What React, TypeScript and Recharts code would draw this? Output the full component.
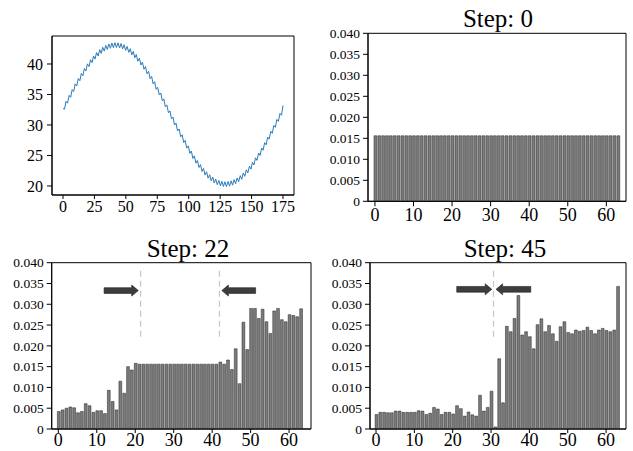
import React from 'react';
import { LineChart, Line, BarChart, Bar, XAxis, YAxis, ReferenceLine, ReferenceArea } from 'recharts';

const FONT = '"Liberation Serif", "Times New Roman", "DejaVu Serif", serif';

// ---- top-left line series (fine jitter included) ----
const sineX = [0, 1.2, 2.4, 3.6, 4.9, 6.1, 7.3, 8.5, 9.7, 10.9, 12.2, 13.4, 14.6, 15.8, 17.0, 18.2, 19.4, 20.7, 21.9, 23.1, 24.3, 25.5, 26.7, 28.0, 29.2, 30.4, 31.6, 32.8, 34.0, 35.2, 36.5, 37.7, 38.9, 40.1, 41.3, 42.5, 43.8, 45.0, 46.2, 47.4, 48.6, 49.8, 51.0, 52.3, 53.5, 54.7, 55.9, 57.1, 58.3, 59.5, 60.8, 62.0, 63.2, 64.4, 65.6, 66.8, 68.1, 69.3, 70.5, 71.7, 72.9, 74.1, 75.3, 76.6, 77.8, 79.0, 80.2, 81.4, 82.6, 83.9, 85.1, 86.3, 87.5, 88.7, 89.9, 91.1, 92.4, 93.6, 94.8, 96.0, 97.2, 98.4, 99.7, 100.9, 102.1, 103.3, 104.5, 105.7, 106.9, 108.2, 109.4, 110.6, 111.8, 113.0, 114.2, 115.4, 116.7, 117.9, 119.1, 120.3, 121.5, 122.7, 124.0, 125.2, 126.4, 127.6, 128.8, 130.0, 131.3, 132.5, 133.7, 134.9, 136.1, 137.3, 138.5, 139.7, 141.0, 142.2, 143.4, 144.6, 145.8, 147.0, 148.3, 149.5, 150.7, 151.9, 153.1, 154.3, 155.6, 156.8, 158.0, 159.2, 160.4, 161.6, 162.8, 164.0, 165.3, 166.5, 167.7, 168.9, 170.1, 171.3, 172.6, 173.8, 175.0];
const sineY = [32.7, 32.59, 33.88, 33.57, 34.86, 34.54, 35.81, 35.48, 36.74, 36.39, 37.63, 37.26, 38.47, 38.08, 39.27, 38.85, 40.02, 39.57, 40.70, 40.22, 41.32, 40.81, 41.87, 41.32, 42.35, 41.75, 42.74, 42.11, 43.06, 42.39, 43.29, 42.57, 43.44, 42.68, 43.50, 42.70, 43.47, 42.63, 43.36, 42.47, 43.16, 42.23, 42.88, 41.91, 42.51, 41.50, 42.07, 41.02, 41.55, 40.46, 40.96, 39.84, 40.30, 39.15, 39.58, 38.40, 38.80, 37.59, 37.97, 36.74, 37.10, 35.85, 36.19, 34.92, 35.24, 33.96, 34.28, 32.98, 33.29, 32.00, 32.30, 31.00, 31.30, 30.01, 30.32, 29.03, 29.34, 28.06, 28.39, 27.12, 27.46, 26.21, 26.57, 25.34, 25.73, 24.52, 24.93, 23.75, 24.18, 23.03, 23.50, 22.38, 22.88, 21.79, 22.33, 21.28, 21.85, 20.85, 21.46, 20.49, 21.14, 20.21, 20.91, 20.03, 20.76, 19.92, 20.70, 19.90, 20.73, 19.97, 20.84, 20.13, 21.04, 20.37, 21.32, 20.69, 21.69, 21.10, 22.13, 21.58, 22.65, 22.14, 23.24, 22.76, 23.90, 23.45, 24.62, 24.20, 25.40, 25.01, 26.23, 25.86, 27.10, 26.75, 28.01, 27.68, 28.96, 28.64, 29.92, 29.62, 30.91, 30.60, 31.90, 31.60, 33.2];
const lineTicksX = [0, 25, 50, 75, 100, 125, 150, 175];
const lineTicksY = [20, 25, 30, 35, 40];

// ---- bar panels ----
const binIndex = Array.from({ length: 64 }, (_, i) => i);
const step0 = [
  0.0156, 0.0156, 0.0156, 0.0156, 0.0156, 0.0156, 0.0156, 0.0156, 0.0156, 0.0156,
  0.0156, 0.0156, 0.0156, 0.0156, 0.0156, 0.0156, 0.0156, 0.0156, 0.0156, 0.0156,
  0.0156, 0.0156, 0.0156, 0.0156, 0.0156, 0.0156, 0.0156, 0.0156, 0.0156, 0.0156,
  0.0156, 0.0156, 0.0156, 0.0156, 0.0156, 0.0156, 0.0156, 0.0156, 0.0156, 0.0156,
  0.0156, 0.0156, 0.0156, 0.0156, 0.0156, 0.0156, 0.0156, 0.0156, 0.0156, 0.0156,
  0.0156, 0.0156, 0.0156, 0.0156, 0.0156, 0.0156, 0.0156, 0.0156, 0.0156, 0.0156,
  0.0156, 0.0156, 0.0156, 0.0156,
];
const step22 = [
  0.0042, 0.0046, 0.0050, 0.0053, 0.0051, 0.0039, 0.0042, 0.0061, 0.0056, 0.0040,
  0.0044, 0.0044, 0.0037, 0.0093, 0.0066, 0.0046, 0.0115, 0.0086, 0.0150, 0.0142,
  0.0158, 0.0156, 0.0156, 0.0156, 0.0156, 0.0156, 0.0156, 0.0156, 0.0156, 0.0156,
  0.0156, 0.0156, 0.0156, 0.0156, 0.0156, 0.0156, 0.0156, 0.0156, 0.0156, 0.0156,
  0.0156, 0.0156, 0.0161, 0.0156, 0.0166, 0.0143, 0.0193, 0.0109, 0.0257, 0.0191,
  0.0290, 0.0290, 0.0266, 0.0288, 0.0258, 0.0230, 0.0284, 0.0290, 0.0263, 0.0258,
  0.0275, 0.0273, 0.0270, 0.0289,
];
const step45 = [
  0.0035, 0.0040, 0.0040, 0.0039, 0.0039, 0.0043, 0.0043, 0.0040, 0.0040, 0.0040,
  0.0040, 0.0044, 0.0043, 0.0035, 0.0038, 0.0052, 0.0048, 0.0035, 0.0040, 0.0040,
  0.0036, 0.0056, 0.0049, 0.0031, 0.0041, 0.0034, 0.0031, 0.0081, 0.0043, 0.0052,
  0.0091, 0.0005, 0.0169, 0.0063, 0.0247, 0.0234, 0.0266, 0.0321, 0.0226, 0.0234,
  0.0222, 0.0193, 0.0251, 0.0265, 0.0234, 0.0249, 0.0229, 0.0211, 0.0246, 0.0258,
  0.0232, 0.0229, 0.0238, 0.0235, 0.0237, 0.0245, 0.0237, 0.0229, 0.0238, 0.0242,
  0.0237, 0.0234, 0.0238, 0.0343,
];
const barTicksX = [0, 10, 20, 30, 40, 50, 60];
const barTicksY = [0, 0.005, 0.01, 0.015, 0.02, 0.025, 0.03, 0.035, 0.04];

// annotations (data units)
const guides22 = [21.4, 41.9];
const arrows22 = [{ from: 11.9, to: 20.8, y: 0.0333 }, { from: 51.3, to: 42.5, y: 0.0333 }];
const guides45 = [30.65];
const arrows45 = [{ from: 21.05, to: 30.2, y: 0.0336 }, { from: 40.36, to: 31.3, y: 0.0336 }];
const guideSpan = [0.0222, 0.0385];

const lineData = sineX.map((x, i) => ({ x, y: sineY[i] }));
const mkBars = (vals: number[]) => binIndex.map((x, i) => ({ x, v: vals[i] }));

const ArrowShape = (props: any) => {
  const { x1, y1, x2 } = props;
  const dir = x2 > x1 ? 1 : -1;
  const sh = 5.7, hh = 11, hl = 6.6;
  const xb = x2 - dir * hl;
  const pts = [
    [x1, y1 - sh / 2], [xb, y1 - sh / 2], [xb, y1 - hh / 2], [x2, y1],
    [xb, y1 + hh / 2], [xb, y1 + sh / 2], [x1, y1 + sh / 2],
  ];
  return <polygon points={pts.map((p) => p.join(',')).join(' ')} fill="#3d3d3d" stroke="#1e1e1e" strokeWidth={0.6} />;
};

const fmtBarY = (v: number) => (v === 0 ? '0' : v.toFixed(3));

type PanelProps = {
  left: number; top: number; width: number; height: number;
  margin: { top: number; right: number; bottom: number; left: number };
  yW: number; xH: number; xDomain: [number, number];
  values: number[]; xTickSize: number; xTickMargin: number;
  guides?: number[]; arrows?: { from: number; to: number; y: number }[];
};

function BarPanel(p: PanelProps) {
  const data = mkBars(p.values);
  return (
    <div style={{ position: 'absolute', left: p.left, top: p.top, fontFamily: FONT }}>
      <BarChart width={p.width} height={p.height} data={data} margin={p.margin} style={{ fontFamily: FONT }}>
        <XAxis
          type="number" dataKey="x" domain={p.xDomain} allowDataOverflow ticks={barTicksX}
          height={p.xH} tickSize={p.xTickSize} tickMargin={p.xTickMargin}
          stroke="#000" tick={{ fill: '#000', fontSize: 18, fontFamily: FONT }} interval={0}
        />
        <YAxis
          type="number" domain={[0, 0.04]} allowDataOverflow ticks={barTicksY} width={p.yW}
          tickSize={5} tickMargin={3} tickFormatter={fmtBarY} interval={0}
          stroke="#000" tick={{ fill: '#000', fontSize: 13.5, fontFamily: FONT }}
        />
        <Bar dataKey="v" barSize={2.8} fill="#7c7c7c" stroke="#222" strokeWidth={0.5} isAnimationActive={false} />
        {(p.guides || []).map((g, i) => (
          <ReferenceLine key={'g' + i} segment={[{ x: g, y: guideSpan[0] }, { x: g, y: guideSpan[1] }]}
            stroke="#c6c6c6" strokeWidth={1.2} strokeDasharray="6 4" />
        ))}
        {(p.arrows || []).map((a, i) => (
          <ReferenceLine key={'a' + i} segment={[{ x: a.from, y: a.y }, { x: a.to, y: a.y }]}
            shape={ArrowShape} />
        ))}
        <ReferenceArea x1={p.xDomain[0]} x2={p.xDomain[1]} y1={0} y2={0.04} fill="none" stroke="#000" strokeWidth={1} ifOverflow="visible" />
      </BarChart>
    </div>
  );
}

const titleStyle = (cx: number, top: number): React.CSSProperties => ({
  position: 'absolute', left: cx - 100, width: 200, top, textAlign: 'center',
  fontFamily: FONT, fontSize: 25, lineHeight: '25px', color: '#000', whiteSpace: 'nowrap',
});

export default function App() {
  return (
    <div style={{ position: 'absolute', left: 0, top: 0, width: 633, height: 451, background: '#fff', overflow: 'hidden', fontFamily: FONT }}>
      <div style={{ position: 'absolute', left: 0, top: 0, fontFamily: FONT }}>
        <LineChart width={320} height={225} data={lineData} margin={{ top: 36, right: 26, bottom: 0, left: 12 }} style={{ fontFamily: FONT }}>
          <XAxis type="number" dataKey="x" domain={[-8.75, 183.75]} allowDataOverflow ticks={lineTicksX}
            height={30} tickSize={4} tickMargin={2} interval={0}
            stroke="#000" tick={{ fill: '#000', fontSize: 16, fontFamily: FONT }} />
          <YAxis type="number" domain={[18.52, 44.59]} allowDataOverflow ticks={lineTicksY} width={40}
            tickSize={5} tickMargin={4} interval={0}
            stroke="#000" tick={{ fill: '#000', fontSize: 16, fontFamily: FONT }} />
          <Line type="linear" dataKey="y" stroke="#2b7bba" strokeWidth={1} dot={false} isAnimationActive={false} />
          <ReferenceArea x1={-8.75} x2={183.75} y1={18.52} y2={44.59} fill="none" stroke="#000" strokeWidth={1} ifOverflow="visible" />
        </LineChart>
      </div>

      <BarPanel left={320} top={0} width={313} height={225}
        margin={{ top: 33.3, right: 7, bottom: 0, left: 3 }} yW={45} xH={23.7}
        xDomain={[-1.8, 65.1]} values={step0} xTickSize={5} xTickMargin={2} />
      <div style={titleStyle(498, 5.8)}>Step: 0</div>

      <BarPanel left={0} top={225} width={320} height={226}
        margin={{ top: 37.7, right: 9, bottom: 0, left: 6.7 }} yW={45} xH={22}
        xDomain={[-1.72, 65.7]} values={step22} xTickSize={4} xTickMargin={0}
        guides={guides22} arrows={arrows22} />
      <div style={titleStyle(188, 235.8)}>Step: 22</div>

      <BarPanel left={320} top={225} width={313} height={226}
        margin={{ top: 37.7, right: 7, bottom: 0, left: 5 }} yW={45} xH={22}
        xDomain={[-1.57, 65.2]} values={step45} xTickSize={4} xTickMargin={0}
        guides={guides45} arrows={arrows45} />
      <div style={titleStyle(505, 235.8)}>Step: 45</div>
    </div>
  );
}
